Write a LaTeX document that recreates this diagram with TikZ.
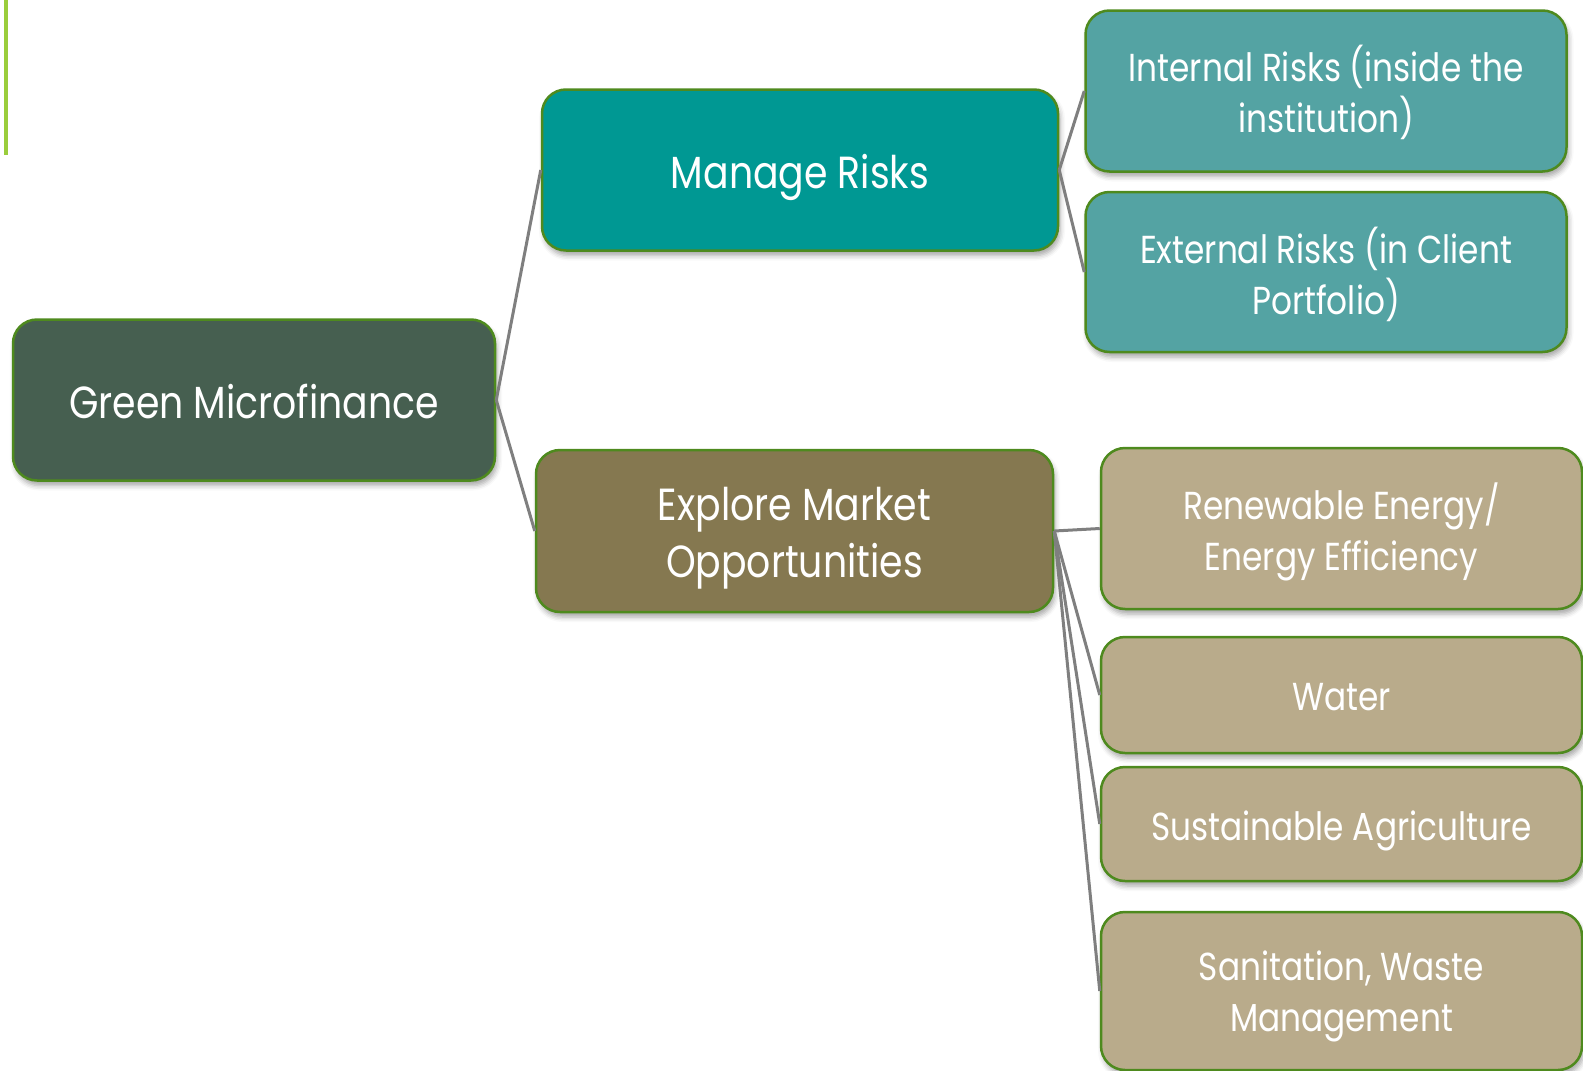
\documentclass[tikz,border=0pt]{standalone}
\usepackage{fontspec}
\setmainfont{Poppins}[FakeStretch=0.84]
\usetikzlibrary{shadows.blur}
\definecolor{barG}{HTML}{9ACD3C}
\definecolor{rootC}{HTML}{465F50}
\definecolor{mrC}{HTML}{009893}
\definecolor{riskC}{HTML}{54A3A3}
\definecolor{exC}{HTML}{857850}
\definecolor{opC}{HTML}{B9AB8B}
\definecolor{edgeC}{HTML}{4E8A1E}
\definecolor{lineC}{HTML}{7F7F7F}
\tikzset{
  box/.style={draw=edgeC, line width=2.5pt, rounded corners=24pt,
    inner sep=0pt,
    blur shadow={shadow xshift=2pt, shadow yshift=-5pt, shadow blur radius=5pt, shadow opacity=35}},
  lbl/.style={text=white, align=center, inner sep=0pt},
  bigtext/.style={lbl, font=\fontsize{45pt}{57.5pt}\selectfont},
  smalltext/.style={lbl, font=\fontsize{39pt}{51pt}\selectfont},
  link/.style={draw=lineC, line width=3pt}
}
\begin{document}
\begin{tikzpicture}[x=1pt,y=-1pt]
\useasboundingbox (0,0) rectangle (1583,1071);
\fill[barG] (4,0) rectangle (8,155);

\node[box, fill=rootC, minimum width=482pt, minimum height=161pt] (gm) at (254,400) {};
\node[box, fill=mrC, minimum width=516pt, minimum height=161pt] (mr) at (800,170) {};
\node[box, fill=exC, minimum width=517pt, minimum height=162pt] (ex) at (794.5,531) {};
\node[box, fill=riskC, minimum width=481pt, minimum height=161pt] (ir) at (1326,91) {};
\node[box, fill=riskC, minimum width=481pt, minimum height=160pt] (er) at (1326,272) {};
\node[box, fill=opC, minimum width=481pt, minimum height=161pt] (re) at (1341.5,528.5) {};
\node[box, fill=opC, minimum width=481pt, minimum height=116pt] (wa) at (1341.5,695) {};
\node[box, fill=opC, minimum width=481pt, minimum height=114pt] (sa) at (1341.5,824) {};
\node[box, fill=opC, minimum width=481pt, minimum height=158pt] (sw) at (1341.5,991) {};

\node[bigtext] (gmt) at ([yshift=-2pt]gm.center) {Green Microfinance};
\node[bigtext] (mrt) at ([yshift=-7pt]mr.center) {Manage Risks};
\node[bigtext] (ext) at ([yshift=-7pt]ex.center) {Explore Market\\Opportunities};
\node[smalltext] (irt) at ([yshift=-1pt]ir.center) {Internal Risks (inside the\\institution)};
\node[smalltext] (ert) at ([yshift=-2pt]er.center) {External Risks (in Client\\Portfolio)};
\node[smalltext] (ret) at ([yshift=-3pt]re.center) {Renewable Energy/\\Energy Efficiency};
\node[smalltext] (wat) at ([yshift=-2pt]wa.center) {Water};
\node[smalltext] (sat) at ([yshift=-7pt]sa.center) {Sustainable Agriculture};
\node[smalltext] (swt) at ([yshift=-5pt]sw.center) {Sanitation, Waste\\Management};

\draw[link] (gm.east) -- (mr.west);
\draw[link] (gm.east) -- (ex.west);
\draw[link] (mr.east) -- (ir.west);
\draw[link] (mr.east) -- (er.west);
\draw[link] (ex.east) -- (re.west);
\draw[link] (ex.east) -- (wa.west);
\draw[link] (ex.east) -- (sa.west);
\draw[link] (ex.east) -- (sw.west);
\end{tikzpicture}
\end{document}
